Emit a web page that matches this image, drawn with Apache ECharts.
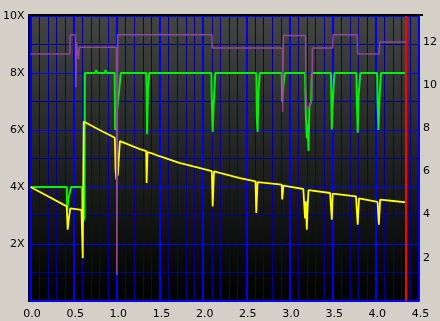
<!DOCTYPE html>
<html>
<head>
<meta charset="utf-8">
<script src="https://cdn.jsdelivr.net/npm/echarts@6/dist/echarts.min.js"></script>
<style>html,body{margin:0;padding:0;background:#d4d0c8;}#c{width:440px;height:321px;}</style>
</head>
<body>
<div id="c"></div>
<script>
// x positions (position on disc) and speeds (X)
const xTicks = [0, 0.5, 1, 1.5, 2, 2.5, 3, 3.5, 4, 4.5];
const leftTicks = ['2X', '4X', '6X', '8X', '10X'];
const rightTicks = [2, 4, 6, 8, 10, 12];

const readSpeed = [
  [0.0, 4.0], [0.42, 3.32], [0.425, 3.3], [0.43, 2.5], [0.44, 2.8], [0.46, 3.25], [0.47, 3.2],
  [0.59, 3.2], [0.6, 3.2], [0.605, 1.5], [0.615, 6.3], [0.632, 6.29], [0.8, 6.0], [0.977, 5.73],
  [0.985, 4.6], [0.995, 4.26], [1.0, 5.0], [1.01, 4.4], [1.035, 5.61], [1.26, 5.34], [1.34, 5.26],
  [1.345, 4.14], [1.355, 5.22], [1.39, 5.2], [1.494, 5.08], [1.724, 4.85], [1.954, 4.67], [2.1, 4.56],
  [2.11, 3.32], [2.125, 4.55], [2.414, 4.32], [2.606, 4.2], [2.615, 3.09], [2.63, 4.17], [2.91, 4.08],
  [2.915, 3.56], [2.93, 4.05], [3.16, 3.93], [3.17, 3.9], [3.18, 2.9], [3.19, 3.5], [3.2, 2.5],
  [3.21, 3.3], [3.22, 3.89], [3.47, 3.79], [3.48, 3.78], [3.49, 2.85], [3.5, 3.77], [3.77, 3.67],
  [3.78, 3.66], [3.79, 2.68], [3.805, 3.6], [4.02, 3.48], [4.025, 3.48], [4.035, 2.68], [4.05, 3.56],
  [4.23, 3.5], [4.35, 3.46]
];

const speedSetting = [
  [0.0, 4.0], [0.42, 4.0], [0.425, 3.2], [0.44, 3.6], [0.47, 4.0], [0.595, 4.0], [0.6, 2.75],
  [0.625, 2.9], [0.63, 8.0], [0.75, 8.0], [0.76, 8.1], [0.77, 8.0], [0.86, 8.0], [0.87, 8.1],
  [0.88, 8.0], [0.975, 8.0], [0.98, 6.0], [0.99, 7.0], [1.0, 6.6], [1.03, 7.5], [1.045, 8.0],
  [1.34, 8.0], [1.345, 7.5], [1.35, 5.85], [1.36, 7.4], [1.375, 8.0], [2.095, 8.0], [2.1, 7.0],
  [2.11, 5.93], [2.12, 6.8], [2.14, 8.0], [2.615, 8.0], [2.62, 6.5], [2.63, 5.93], [2.64, 7.3],
  [2.655, 8.0], [2.91, 8.0], [2.915, 7.0], [2.93, 7.6], [2.945, 8.0], [3.18, 8.0], [3.19, 6.5],
  [3.2, 5.7], [3.21, 6.2], [3.22, 5.26], [3.23, 6.8], [3.25, 7.0], [3.26, 8.0], [3.48, 8.0],
  [3.485, 7.0], [3.49, 6.02], [3.505, 7.2], [3.52, 8.0], [3.775, 8.0], [3.78, 7.0], [3.79, 5.9],
  [3.8, 7.2], [3.82, 8.0], [4.015, 8.0], [4.02, 7.0], [4.03, 6.0], [4.045, 7.3], [4.06, 8.0],
  [4.35, 8.0]
];

const rotation = [
  [0.0, 11.44], [0.455, 11.44], [0.46, 12.33], [0.52, 12.33], [0.525, 9.9], [0.53, 12.0],
  [0.555, 11.2], [0.565, 11.75], [0.995, 11.75], [1.0, 1.2], [1.01, 12.33], [2.1, 12.33],
  [2.105, 11.72], [2.915, 11.72], [2.92, 8.75], [2.93, 12.3], [3.185, 12.3], [3.19, 10.0],
  [3.2, 9.0], [3.215, 8.9], [3.26, 9.3], [3.265, 11.72], [3.5, 11.72], [3.505, 12.33],
  [3.785, 12.33], [3.79, 11.44], [4.04, 11.44], [4.045, 12.0], [4.35, 12.0]
];

const endPosition = 4.35;

const chart = echarts.init(document.getElementById('c'), null, {renderer: 'canvas'});
const font = 'DejaVu Sans';
chart.setOption({
  animation: false,
  backgroundColor: '#d4d0c8',
  grid: {
    left: 30, right: 18, top: 16, bottom: 20, show: true, borderWidth: 0,
    backgroundColor: new echarts.graphic.LinearGradient(0, 0, 0, 1, [
      {offset: 0, color: '#444444'}, {offset: 1, color: '#000000'}
    ])
  },
  xAxis: {
    type: 'value', min: 0, max: 4.5, interval: 0.5,
    axisLine: {show: true, lineStyle: {color: '#0000ff', width: 2}},
    axisTick: {show: false},
    axisLabel: {
      color: '#000', fontFamily: font, fontSize: 11, margin: 8, padding: [0, 0, 0, 3],
      formatter: v => xTicks.includes(Math.round(v * 10) / 10) ? v.toFixed(1) : ''
    },
    splitLine: {show: true, lineStyle: {color: '#0000f0', width: 2}},
    minorTick: {show: false, splitNumber: 5},
    minorSplitLine: {show: true, lineStyle: {color: '#00008c', width: 1}}
  },
  yAxis: [{
    type: 'value', min: 0, max: 10, interval: 2,
    axisLine: {show: false}, axisTick: {show: false},
    axisLabel: {
      color: '#000', fontFamily: font, fontSize: 11, margin: 6,
      formatter: v => { const s = v + 'X'; return leftTicks.includes(s) ? s : ''; }
    },
    splitLine: {show: true, lineStyle: {color: '#0000ff', width: 1}},
    minorTick: {show: false, splitNumber: 2},
    minorSplitLine: {show: true, lineStyle: {color: '#00008c', width: 1}}
  }, {
    type: 'value', min: 0, max: 13.2, interval: 2, position: 'right',
    axisLine: {show: false}, axisTick: {show: false}, splitLine: {show: false},
    axisLabel: {
      color: '#000', fontFamily: font, fontSize: 11, margin: 4,
      formatter: v => rightTicks.includes(v) ? String(v) : ''
    }
  }],
  graphic: [
    {type: 'line', shape: {x1: 28, y1: 15, x2: 423, y2: 15}, style: {stroke: '#000', lineWidth: 2}, z: 100},
    {type: 'line', shape: {x1: 29, y1: 15, x2: 29, y2: 302}, style: {stroke: '#000030', lineWidth: 2}, z: 100}
  ],
  series: [
    {type: 'line', data: speedSetting, showSymbol: false, lineStyle: {color: '#00f000', width: 2}, z: 3},
    {type: 'line', data: readSpeed, showSymbol: false, lineStyle: {color: '#ffff00', width: 1.8}, z: 4},
    {type: 'line', yAxisIndex: 1, data: rotation, showSymbol: false, lineStyle: {color: '#8c4a96', width: 1.5}, z: 5,
      markLine: {silent: true, symbol: 'none', label: {show: false},
        lineStyle: {color: '#ff0000', width: 2, type: 'solid'},
        data: [{xAxis: endPosition}]}}
  ]
});
</script>
</body>
</html>
